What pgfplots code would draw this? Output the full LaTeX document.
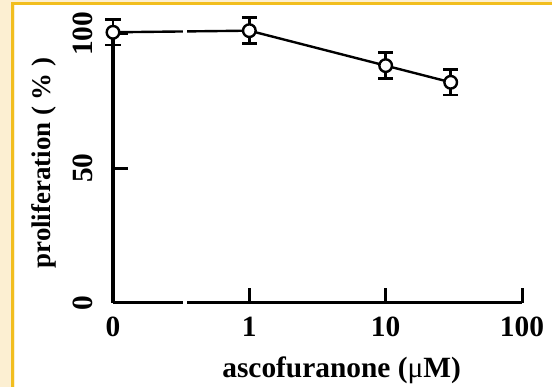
\documentclass[border=0pt]{standalone}
\usepackage{pgfplots}
\pgfplotsset{compat=1.18}
\usepackage{fontspec}
\setmainfont{Liberation Serif}
\definecolor{cream}{RGB}{252,239,210}
\definecolor{gold}{RGB}{242,190,30}
\begin{document}
\begin{tikzpicture}
\useasboundingbox (0,0) rectangle (552bp,387bp);
\fill[cream] (0,0) rectangle (552bp,387bp);
\fill[white] (15bp,0) rectangle (552bp,382bp);
\fill[gold] (11bp,0) rectangle (14bp,385bp);
\fill[gold] (11bp,382bp) rectangle (552bp,385bp);
\begin{axis}[
 at={(113bp,84.3bp)}, anchor=south west,
 scale only axis, width=409bp, height=268.8bp,
 xmin=-1, xmax=2, ymin=0, ymax=100,
 axis x line*=bottom, axis y line*=left,
 axis line style={line width=3bp},
 clip=false,
 xtick={0,1,2}, xticklabels={1,10,100},
 extra x ticks={-1}, extra x tick labels={0},
 extra x tick style={major tick length=0pt},
 ytick={0,50,100},
 tick align=inside, major tick length=15bp,
 tick style={line width=3bp, black},
 ticklabel style={font=\fontsize{29.5}{34}\selectfont\bfseries},
 /pgf/number format/assume math mode=true,
 xticklabel style={yshift=-11bp},
 yticklabel style={rotate=90, anchor=base, yshift=20bp, inner sep=0pt},
 xlabel={ascofuranone ({\mdseries μ}M)},
 ylabel={proliferation ( \% )},
 xlabel style={font=\fontsize{29.5}{34}\selectfont\bfseries,
   at={(axis description cs:0.559,-0.25)}, anchor=center},
 ylabel style={font=\fontsize{27}{32}\selectfont\bfseries,
   at={(axis description cs:-0.169,0.52)}, anchor=center},
]
\addplot[black, line width=2.4bp, mark=*, mark size=6.3bp,
  mark options={fill=white, draw=black, line width=2.4bp, solid},
  error bars/.cd, y dir=both, y explicit,
  error bar style={line width=2.6bp},
  error mark options={rotate=90, line width=2.6bp, mark size=7.5bp}]
  coordinates {
  (-1,100.6) +- (0,4.7)
  (0,101.2) +- (0,4.8)
  (1,88.2) +- (0,4.8)
  (1.477,82.0) +- (0,4.8)
  };
\fill[white] (axis cs:-0.49,-3) rectangle (axis cs:-0.455,104);
\end{axis}
\end{tikzpicture}
\end{document}
